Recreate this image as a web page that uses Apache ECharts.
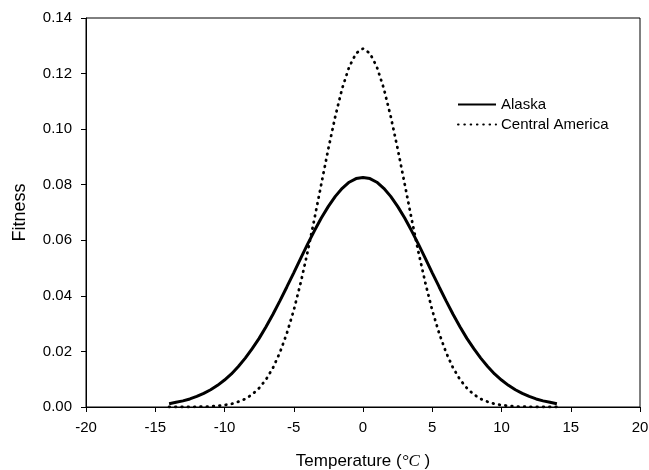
<!DOCTYPE html>
<html>
<head>
<meta charset="utf-8">
<script src="https://cdn.jsdelivr.net/npm/echarts@6/dist/echarts.min.js"></script>
<style>html,body{margin:0;padding:0;background:#fff}#c{width:649px;height:470px}</style>
</head>
<body>
<div id="c"></div>
<script>
const temps = [-14,-13.5,-13,-12.5,-12,-11.5,-11,-10.5,-10,-9.5,-9,-8.5,-8,-7.5,-7,-6.5,-6,-5.5,-5,-4.5,-4,-3.5,-3,-2.5,-2,-1.5,-1,-0.5,0,0.5,1,1.5,2,2.5,3,3.5,4,4.5,5,5.5,6,6.5,7,7.5,8,8.5,9,9.5,10,10.5,11,11.5,12,12.5,13,13.5,14];
const alaska = [0.0012,0.0017,0.0022,0.0029,0.0038,0.0049,0.0062,0.0078,0.0097,0.0119,0.0146,0.0176,0.0210,0.0247,0.0289,0.0334,0.0382,0.0432,0.0483,0.0535,0.0586,0.0635,0.0681,0.0722,0.0758,0.0787,0.0809,0.0822,0.0826,0.0822,0.0809,0.0787,0.0758,0.0722,0.0681,0.0635,0.0586,0.0535,0.0483,0.0432,0.0382,0.0334,0.0289,0.0247,0.0210,0.0176,0.0146,0.0119,0.0097,0.0078,0.0062,0.0049,0.0038,0.0029,0.0022,0.0017,0.0012];
const centralAmerica = [0,0,0,0,0.0001,0.0001,0.0002,0.0004,0.0007,0.0011,0.0019,0.0029,0.0045,0.0068,0.0099,0.0141,0.0196,0.0265,0.0348,0.0447,0.0558,0.0679,0.0805,0.0930,0.1046,0.1147,0.1224,0.1273,0.1290,0.1273,0.1224,0.1147,0.1046,0.0930,0.0805,0.0679,0.0558,0.0447,0.0348,0.0265,0.0196,0.0141,0.0099,0.0068,0.0045,0.0029,0.0019,0.0011,0.0007,0.0004,0.0002,0.0001,0.0001,0,0,0,0];
const seriesNames = ['Alaska', 'Central America'];

const chart = echarts.init(document.getElementById('c'), null, {renderer: 'canvas'});
const font = '"Liberation Sans", Arial, sans-serif';
chart.setOption({
  animation: false,
  backgroundColor: '#fff',
  grid: {left: 86, right: 9, top: 18, bottom: 63, outerBoundsMode: 'none', containLabel: false,
         show: true, borderColor: '#000', borderWidth: 1, backgroundColor: 'transparent'},
  legend: {
    orient: 'vertical', left: 452, top: 92, itemWidth: 38, itemHeight: 10, itemGap: 5,
    itemStyle: {opacity: 0},
    textStyle: {fontFamily: font, fontSize: 15, color: '#000'},
    data: seriesNames
  },
  xAxis: {
    type: 'value', min: -20, max: 20, interval: 5,
    axisLine: {onZero: false, lineStyle: {color: '#000', width: 1}},
    axisTick: {show: true, length: 5, lineStyle: {color: '#000'}},
    splitLine: {show: false},
    axisLabel: {fontFamily: font, fontSize: 15, color: '#000', margin: 13},
    name: '{a|Temperature (}{b|°C}{a| )}', nameLocation: 'middle', nameGap: 46,
    nameTextStyle: {rich: {
      a: {fontFamily: font, fontSize: 17, color: '#000'},
      b: {fontFamily: '"Liberation Serif", "Times New Roman", serif', fontStyle: 'italic', fontSize: 17, color: '#000'}
    }}
  },
  yAxis: {
    type: 'value', min: 0, max: 0.14, interval: 0.02,
    axisLine: {show: true, onZero: false, lineStyle: {color: '#000', width: 1}},
    axisTick: {show: true, length: 5, lineStyle: {color: '#000'}},
    splitLine: {show: false},
    axisLabel: {fontFamily: font, fontSize: 15, color: '#000', margin: 14, formatter: v => v.toFixed(2)},
    name: 'Fitness', nameLocation: 'middle', nameGap: 57, nameRotate: 90,
    nameTextStyle: {fontFamily: font, fontSize: 18, color: '#000'}
  },
  series: [
    {name: seriesNames[0], type: 'line', showSymbol: false, symbol: 'none', smooth: false,
     data: temps.map((t, i) => [t, alaska[i]]),
     lineStyle: {color: '#000', width: 3}, itemStyle: {color: '#000'}},
    {name: seriesNames[1], type: 'line', showSymbol: false, symbol: 'none', smooth: false,
     data: temps.map((t, i) => [t, centralAmerica[i]]),
     lineStyle: {color: '#000', width: 2.8, type: [0.6, 5.7], cap: 'round'}, itemStyle: {color: '#000'}}
  ]
});
</script>
</body>
</html>
